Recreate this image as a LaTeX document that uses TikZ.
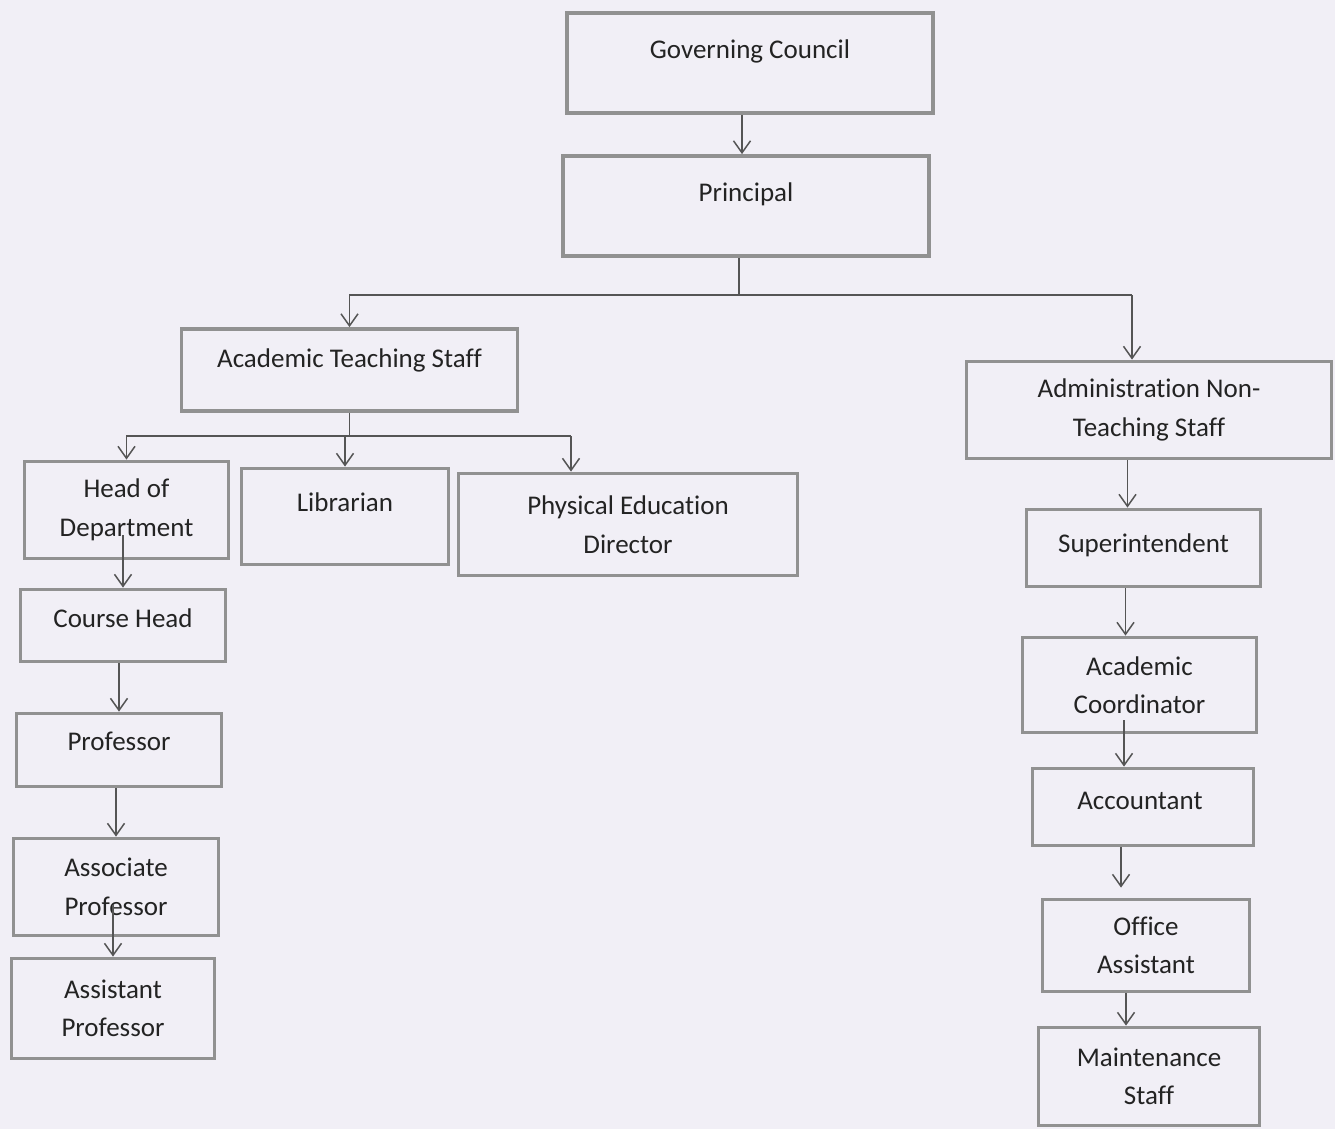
\documentclass[tikz,border=0pt]{standalone}
\usepackage{fontspec}
\setmainfont{Carlito}[Ligatures=NoCommon]
\usetikzlibrary{arrows.meta}
\definecolor{paper}{RGB}{241,239,246}
\definecolor{boxline}{RGB}{145,145,145}
\definecolor{ink}{RGB}{35,35,35}
\definecolor{arrowline}{RGB}{85,85,85}

\begin{document}
\begin{tikzpicture}[x=1pt, y=-1pt, >={Straight Barb[length=12pt,width=17pt]},
        box/.style={draw=boxline, line width=3.8pt, text=ink, align=center, inner sep=2pt,
                    font={\fontsize{27}{38.5}\selectfont}},
        oneline/.style={text height=20pt, text depth=#1},
        size/.style 2 args={minimum width=#1pt, minimum height=#2pt},
        line/.style={arrowline, line width=1.5pt},
        link/.style={line, ->}]
        \fill [paper] (0, 0) rectangle (1335, 1129);
        \useasboundingbox (0, 0) rectangle (1335, 1129);
%
        % boxes with one line of text (sitting high in the box)
        \foreach \i/\x/\y/\w/\h/\d/\txt in
        {
            gc/750/63/366/100/28pt/Governing Council,
            pr/746/206/366/100/30pt/Principal,
            ats/349.5/370/336/82/26pt/Academic Teaching Staff,
            lib/345/516.5/207/96/30pt/Librarian,
            ch/123/625.5/205/72/16pt/Course Head,
            prof/119/750/205/73/20pt/Professor,
            sup/1143.5/548/234/77/12pt/Superintendent,
            acc/1143/807/221/77/16pt/Accountant
        }
        {
            \node [box, oneline=\d, size={\w}{\h}] (\i) at (\x, \y) {\txt};
        }
        % boxes with two lines of text
        \node [box, size={365}{97}] (ants) at (1149, 410) {Administration Non-\\Teaching Staff};
        \node [box, size={204}{97}] (hod) at (126.5, 510) {Head of\\Department};
        \node [box, size={339}{102}] (ped) at (628, 524.5) {Physical Education\\Director};
        \node [box, size={205}{97}] (asp) at (116, 887) {Associate\\Professor};
        \node [box, size={203}{100}] (assp) at (113, 1008.5) {Assistant\\Professor};
        \node [box, size={234}{95}] (ac) at (1139.5, 685) {Academic\\Coordinator};
        \node [box, size={207}{92}] (oa) at (1146, 945.5) {Office\\Assistant};
        \node [box, size={221}{98}] (ms) at (1149, 1076.5) {Maintenance\\Staff};
%
        \coordinate (top bus) at (0, 295);
        \coordinate (mid bus) at (0, 436);

        \draw [link] ([xshift=-8pt]gc.south) -- ([xshift=-4pt]pr.north);

        \draw [line] ([xshift=-7pt]pr.south) -- ([xshift=-7pt]pr.south |- top bus);
        \draw [link] ([xshift=-17pt]ants.north |- top bus) -- (ats.north |- top bus) -- (ats.north);
        \draw [link] ([xshift=-17pt]ants.north |- top bus) -- ([xshift=-17pt]ants.north);

        \draw [line] (ats.south) -- (ats.south |- mid bus);
        \draw [link] ([xshift=-57pt]ped.north |- mid bus) -- (hod.north |- mid bus) -- (hod.north);
        \draw [link] (lib.north |- mid bus) -- (lib.north);
        \draw [link] ([xshift=-57pt]ped.north |- mid bus) -- ([xshift=-57pt]ped.north);

        % teaching side
        \draw [link] ([yshift=25pt]ch.north |- hod.south) -- (ch.north);
        \draw [link] (prof.north |- ch.south) -- (prof.north);
        \draw [link] (asp.north |- prof.south) -- (asp.north);
        \draw [link] ([yshift=32pt]assp.north |- asp.south) -- (assp.north);

        % non-teaching side
        \draw [link] ([xshift=-16pt]sup.north |- ants.south) -- ([xshift=-16pt]sup.north);
        \draw [link] ([xshift=-14pt]ac.north |- sup.south) -- ([xshift=-14pt]ac.north);
        \draw [link] ([xshift=-19pt, yshift=14pt]acc.north |- ac.south) -- ([xshift=-19pt]acc.north);
        \draw [link] ([xshift=-25pt]oa.north |- acc.south) -- ([xshift=-25pt, yshift=10pt]oa.north);
        \draw [link] ([xshift=-23pt]ms.north |- oa.south) -- ([xshift=-23pt]ms.north);
    \end{tikzpicture}
\end{document}
